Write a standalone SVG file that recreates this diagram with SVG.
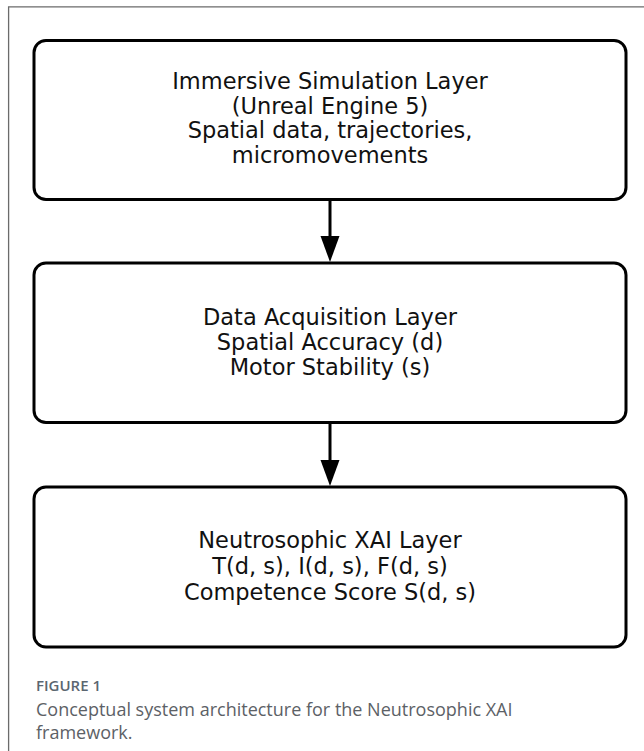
<svg xmlns="http://www.w3.org/2000/svg" width="644" height="751" viewBox="0 0 644 751">
  <style>
    .frame { fill: none; stroke: #6b6b6b; stroke-width: 1.3; }
    .box { fill: #ffffff; stroke: #000000; stroke-width: 3; }
    .label { font-family: "DejaVu Sans", sans-serif; font-size: 22.5px; fill: #111111; text-anchor: middle; }
    .edge { stroke: #000000; stroke-width: 3; fill: none; }
    .head { fill: #000000; }
    .cap-title { font-family: "Open Sans", "Noto Sans", sans-serif; font-size: 15px; font-weight: 600; fill: #5b6670; }
    .cap-text { font-family: "Open Sans", "Noto Sans", sans-serif; font-size: 18px; font-weight: 400; fill: #5c6166; }
  </style>
  <rect x="0" y="0" width="644" height="751" fill="#ffffff"/>
  <!-- page border: left and top edges only -->
  <path class="frame" d="M8.6,751 L8.6,6.8 L644,6.8"/>

  <g id="node-simulation">
    <rect class="box" x="34" y="40.5" width="592" height="159" rx="12" ry="12"/>
    <text class="label" x="330" y="89">Immersive Simulation Layer</text>
    <text class="label" x="330" y="113.5">(Unreal Engine 5)</text>
    <text class="label" x="330" y="138">Spatial data, trajectories,</text>
    <text class="label" x="330" y="162.5">micromovements</text>
  </g>

  <g id="node-acquisition">
    <rect class="box" x="34" y="263" width="592" height="159.5" rx="12" ry="12"/>
    <text class="label" x="330" y="324.5">Data Acquisition Layer</text>
    <text class="label" x="330" y="349.5">Spatial Accuracy (d)</text>
    <text class="label" x="330" y="374.5">Motor Stability (s)</text>
  </g>

  <g id="node-xai">
    <rect class="box" x="34" y="487" width="592" height="160" rx="12" ry="12"/>
    <text class="label" x="330" y="548">Neutrosophic XAI Layer</text>
    <text class="label" x="330" y="574">T(d, s), I(d, s), F(d, s)</text>
    <text class="label" x="330" y="600">Competence Score S(d, s)</text>
  </g>

  <g id="connectors">
    <line class="edge" x1="330" y1="201" x2="330" y2="237"/>
    <polygon class="head" points="320.5,236 339.5,236 330,262"/>
    <line class="edge" x1="330" y1="424" x2="330" y2="461"/>
    <polygon class="head" points="320.5,460 339.5,460 330,486"/>
  </g>

  <g id="caption">
    <text class="cap-title" x="36" y="691">FIGURE 1</text>
    <text class="cap-text" x="36" y="716">Conceptual system architecture for the Neutrosophic XAI</text>
    <text class="cap-text" x="36" y="739">framework.</text>
  </g>
</svg>
